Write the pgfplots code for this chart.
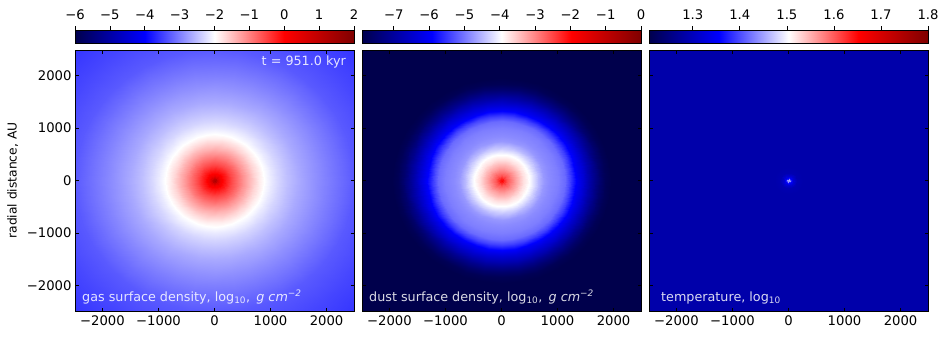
\documentclass[border=0pt]{standalone}
\usepackage{fontspec}
\setmainfont{DejaVu Sans}
\usepackage{pgfplots}
\pgfplotsset{compat=1.18}
\pgfplotsset{colormap={seis}{rgb=(0,0,0.3) rgb=(0,0,1) rgb=(1,1,1) rgb=(1,0,0) rgb=(0.5,0,0)}}
% radial profiles: radius (AU) / log10 value
\def\gasprofile{0/1.3,30/1.0,60/0.55,100/0.2,150/-0.05,210/-0.25,300/-0.55,420/-0.9,510/-1.15,600/-1.38,720/-1.67,800/-1.85,880/-2,1000/-2.17,1130/-2.33,1300/-2.5,1500/-2.67,1800/-2.87,2000/-3.0,2250/-3.15,2500/-3.3,3000/-3.45,3600/-3.6}
\def\dustprofile{0/-2.0,30/-2.15,60/-2.4,100/-2.65,150/-2.85,240/-3.2,320/-3.45,390/-3.7,450/-3.85,510/-4,600/-4.3,660/-4.5,750/-4.75,840/-4.85,1000/-4.95,1130/-5.1,1230/-5.45,1340/-6,1450/-6.4,1550/-6.8,1650/-7.2,1750/-7.55,1850/-7.8,1950/-7.9,2500/-7.9,3600/-7.9}
\def\tempprofile{0/1.47,20/1.44,40/1.37,60/1.34,90/1.315,150/1.29,250/1.285,3600/1.285}
\newcommand\buildmesh[2]{%
  \gdef\meshlist{}%
  \foreach \a in {0,10,...,360}{%
    \foreach \r/\v in #1{%
      \pgfmathsetmacro\xx{\r*cos(\a)}%
      \pgfmathsetmacro\yy{\r*sin(\a)}%
      \xdef\meshlist{\meshlist (\xx,\yy) [\v]}%
    }%
  }%
  \global\let#2\meshlist
}
\buildmesh{\gasprofile}{\gasmesh}
\buildmesh{\dustprofile}{\dustmesh}
\buildmesh{\tempprofile}{\tempmesh}
\newcommand\drawmesh[2]{%
  \edef\temp{\noexpand\addplot[surf,shader=interp,mesh/cols=#2,point meta=explicit] coordinates {#1};}\temp}
\pgfplotsset{
  main/.style={
    scale only axis, width=279pt, height=261pt, anchor=south west,
    xmin=-2490, xmax=2490, ymin=-2490, ymax=2490,
    colormap name=seis, axis on top,
    xtick={-2000,-1000,0,1000,2000},
    xticklabels={−2000,−1000,0,1000,2000},
    ytick={-2000,-1000,0,1000,2000},
    yticklabels={−2000,−1000,0,1000,2000},
    tick align=inside, tick style={black,line width=0.7pt}, major tick length=3.5pt,
    xtick pos=both, ytick pos=both, xticklabel pos=lower,
    axis line style={line width=0.7pt},
    tick label style={font=\fontsize{13.2}{14}\selectfont},
    xticklabel style={yshift=-1.5pt},
  },
  bar/.style={
    scale only axis, width=279pt, height=13.5pt, anchor=south west,
    ymin=0, ymax=1, ytick=\empty, colormap name=seis, axis on top,
    xtick pos=upper, xticklabel pos=upper, tick align=outside,
    tick style={black,line width=0.7pt}, major tick length=3.5pt,
    axis line style={line width=0.7pt},
    tick label style={font=\fontsize{13.2}{14}\selectfont},
    xticklabel style={yshift=3pt},
  },
}
\tikzset{anno/.style={font=\fontsize{12.75}{13}\selectfont, text=white, text opacity=0.85, inner sep=0pt}}
\begin{document}
\begin{tikzpicture}[x=1pt,y=1pt]
\useasboundingbox (0,0) rectangle (948,338);
% main panels
\begin{axis}[main, at={(75pt,27pt)}, point meta min=-6, point meta max=2,
  ylabel={radial distance, AU}, ylabel style={font=\fontsize{12.3}{13}\selectfont,xshift=0pt,yshift=2pt}]
\drawmesh{\gasmesh}{23}
\end{axis}
\begin{axis}[main, at={(362pt,27pt)}, point meta min=-7.9, point meta max=0, yticklabels={}]
\drawmesh{\dustmesh}{26}
\end{axis}
\begin{axis}[main, at={(649pt,27pt)}, point meta min=1.207, point meta max=1.8, yticklabels={}]
\drawmesh{\tempmesh}{8}
\end{axis}
% colour bars
\begin{axis}[bar, at={(75pt,294.5pt)}, xmin=-6, xmax=2, point meta min=-6, point meta max=2,
  xtick={-6,-5,-4,-3,-2,-1,0,1,2}, xticklabels={−6,−5,−4,−3,−2,−1,0,1,2}]
\addplot[surf,shader=interp,mesh/cols=2,point meta=x] coordinates {(-6,0) (2,0) (-6,1) (2,1)};
\end{axis}
\begin{axis}[bar, at={(362pt,294.5pt)}, xmin=-7.9, xmax=0, point meta min=-7.9, point meta max=0,
  xtick={-7,-6,-5,-4,-3,-2,-1,0}, xticklabels={−7,−6,−5,−4,−3,−2,−1,0}]
\addplot[surf,shader=interp,mesh/cols=2,point meta=x] coordinates {(-7.9,0) (0,0) (-7.9,1) (0,1)};
\end{axis}
\begin{axis}[bar, at={(649pt,294.5pt)}, xmin=1.207, xmax=1.8, point meta min=1.207, point meta max=1.8,
  xtick={1.3,1.4,1.5,1.6,1.7,1.8}, xticklabels={1.3,1.4,1.5,1.6,1.7,1.8}]
\addplot[surf,shader=interp,mesh/cols=2,point meta=x] coordinates {(1.207,0) (1.8,0) (1.207,1) (1.8,1)};
\end{axis}
% annotations
\node[anno,anchor=base east] at (346,272) {t = 951.0 kyr};
\node[anno,anchor=base west] at (82,37) {gas surface density, log\textsubscript{10},\, \textit{g cm}\textsuperscript{\textit{−2}}};
\node[anno,anchor=base west] at (369,37) {dust surface density, log\textsubscript{10},\, \textit{g cm}\textsuperscript{\textit{−2}}};
\node[anno,anchor=base west] at (661,37) {temperature, log\textsubscript{10}};
\end{tikzpicture}
\end{document}
